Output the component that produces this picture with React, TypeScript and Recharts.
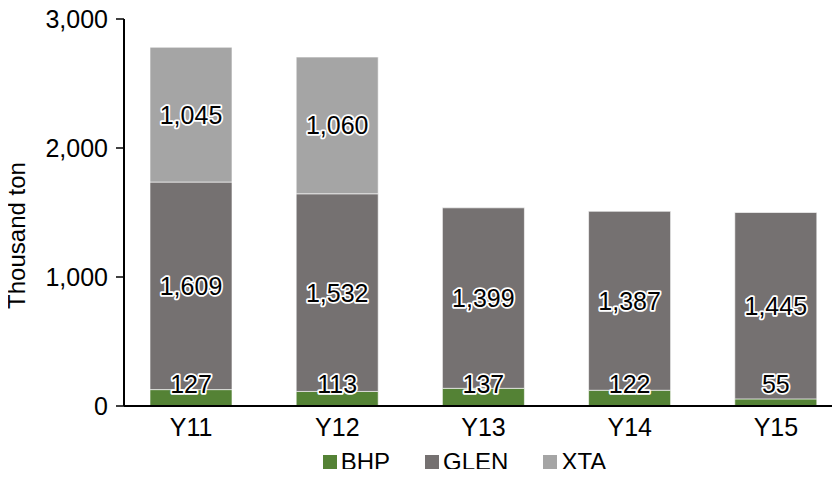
import React from "react";
import { BarChart, Bar, XAxis, YAxis, Legend, LabelList, Label } from "recharts";

const categories = ["Y11", "Y12", "Y13", "Y14", "Y15"];
const bhp = [127, 113, 137, 122, 55];
const glen = [1609, 1532, 1399, 1387, 1445];
const xta = [1045, 1060, 0, 0, 0];
const yTicks = [0, 1000, 2000, 3000];

const seriesInfo = [
  { key: "BHP", color: "#548235" },
  { key: "GLEN", color: "#757171" },
  { key: "XTA", color: "#a5a5a5" },
];

const data = categories.map((c, i) => ({ name: c, BHP: bhp[i], GLEN: glen[i], XTA: xta[i] }));

const FONT = "'Liberation Sans', Arial, Helvetica, sans-serif";
const fmt = (v: number) => v.toLocaleString("en-US");

const makeLabel = (mode: "center" | "base") => (props: any) => {
  const { x, y, width, height, value } = props;
  if (!value) return null;
  const cx = x + width / 2;
  const cy = mode === "center" ? y + height / 2 : y + height - 22;
  return (
    <text
      x={cx}
      y={cy}
      textAnchor="middle"
      dominantBaseline="central"
      fontFamily={FONT}
      fontSize={25}
      fill="#000"
      stroke="#fff"
      strokeWidth={3.5}
      strokeLinejoin="round"
      paintOrder="stroke"
    >
      {fmt(value)}
    </text>
  );
};

const LegendContent = () => (
  <div
    style={{
      display: "flex",
      justifyContent: "center",
      alignItems: "center",
      fontFamily: FONT,
      fontSize: 24,
      lineHeight: "30px",
      color: "#000",
      gap: 35,
      height: 30,
      marginLeft: 80,
    }}
  >
    {seriesInfo.map((s) => (
      <div key={s.key} style={{ display: "flex", alignItems: "center", height: 30 }}>
        <span style={{ display: "inline-block", width: 14, height: 14, background: s.color, marginRight: 4 }} />
        <span style={{ lineHeight: "30px" }}>{s.key}</span>
      </div>
    ))}
  </div>
);

export default function App() {
  return (
    <div style={{ margin: -8, width: 840, height: 477, overflow: "hidden", background: "#fff" }}>
      <BarChart
        width={860}
        height={477}
        data={data}
        margin={{ top: 19, right: 11, bottom: 0, left: 0 }}
        barSize={82}
      >
        <XAxis
          dataKey="name"
          tickLine={false}
          axisLine={{ stroke: "#000", strokeWidth: 2 }}
          padding={{ left: -6, right: 0 }}
          height={41}
          tickMargin={6}
          tick={{ fontFamily: FONT, fontSize: 25, fill: "#000" }}
        />
        <YAxis
          width={124}
          domain={[0, 3000]}
          ticks={yTicks}
          tickFormatter={fmt}
          axisLine={{ stroke: "#000", strokeWidth: 2 }}
          tickLine={{ stroke: "#000", strokeWidth: 1.5 }}
          tickSize={8}
          tickMargin={8}
          tick={{ fontFamily: FONT, fontSize: 25, fill: "#000" }}
          interval={0}
        >
          <Label
            value="Thousand ton"
            angle={-90}
            position="insideLeft"
            offset={0}
            dx={16}
            dy={23}
            style={{ fontFamily: FONT, fontSize: 24, fill: "#000", textAnchor: "middle" }}
          />
        </YAxis>
        <Legend verticalAlign="bottom" height={30} content={<LegendContent />} />
        <Bar dataKey="BHP" stackId="a" fill="#548235" stroke="#ffffff" strokeWidth={0.6} isAnimationActive={false}>
          <LabelList dataKey="BHP" content={makeLabel("base")} />
        </Bar>
        <Bar dataKey="GLEN" stackId="a" fill="#757171" stroke="#ffffff" strokeWidth={0.6} isAnimationActive={false}>
          <LabelList dataKey="GLEN" content={makeLabel("center")} />
        </Bar>
        <Bar dataKey="XTA" stackId="a" fill="#a5a5a5" stroke="#ffffff" strokeWidth={0.6} isAnimationActive={false}>
          <LabelList dataKey="XTA" content={makeLabel("center")} />
        </Bar>
      </BarChart>
    </div>
  );
}
